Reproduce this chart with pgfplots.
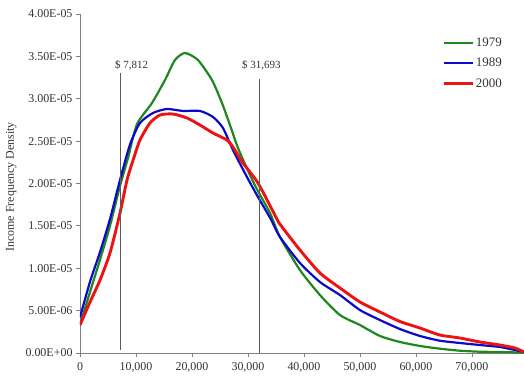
\documentclass[border=0pt]{standalone}
\usepackage{pgfplots}
\pgfplotsset{compat=1.18}
\usepackage{fontspec}
\setmainfont{Liberation Serif}
\definecolor{cgreen}{RGB}{30,135,30}
\definecolor{cblue}{RGB}{10,10,200}
\definecolor{cred}{RGB}{235,20,20}
\definecolor{axgray}{RGB}{128,128,128}
\definecolor{vlgray}{RGB}{90,90,90}
\begin{document}
\begin{tikzpicture}
\begin{axis}[
  scale only axis,
  width=444bp, height=339bp,
  xmin=0, xmax=79300,
  ymin=0, ymax=4e-5,
  axis x line*=bottom, axis y line*=left,
  axis line style={draw=axgray, line width=0.8bp},
  tick style={draw=axgray, line width=0.8bp},
  tick align=outside,
  major tick length=4bp,
  xtick={0,10000,20000,30000,40000,50000,60000,70000},
  xticklabels={0,{10,000},{20,000},{30,000},{40,000},{50,000},{60,000},{70,000}},
  ytick={0,5e-6,1e-5,1.5e-5,2e-5,2.5e-5,3e-5,3.5e-5,4e-5},
  yticklabels={0.00E+00,5.00E-06,1.00E-05,1.50E-05,2.00E-05,2.50E-05,3.00E-05,3.50E-05,4.00E-05},
  scaled y ticks=false, scaled x ticks=false,
  tick label style={font=\fontsize{12}{14}\selectfont, text=black!80},
  xticklabel style={yshift=-2bp},
  ylabel={Income Frequency Density},
  ylabel style={at={(axis description cs:-0.155,0.49)}, anchor=center, font=\fontsize{12}{14}\selectfont, text=black!80},
  legend style={draw=none, fill=none, at={(axis description cs:0.815,0.935)}, anchor=north west,
    font=\fontsize{13}{15}\selectfont, row sep=6bp, inner sep=0pt,
    nodes={inner sep=2bp, text=black!80}},
  legend cell align=left,
  legend image code/.code={\draw[#1] (0bp,0bp) -- (29bp,0bp);},
]
\addplot[cgreen, line width=2.2bp, smooth, tension=0.4] coordinates {
(0,0.330e-5) (1786,0.72e-5) (3571,1.10e-5) (5357,1.50e-5) (7143,1.97e-5)
(8571,2.30e-5) (10179,2.70e-5) (12857,2.950e-5) (15179,3.221e-5)
(16964,3.457e-5) (18750,3.540e-5) (21071,3.457e-5) (23571,3.221e-5) (25357,2.950e-5)
(26786,2.69e-5) (28214,2.42e-5) (30357,2.10e-5) (31786,1.91e-5) (33929,1.652e-5)
(35714,1.369e-5) (39286,0.979e-5) (42857,0.684e-5) (46429,0.448e-5) (50000,0.330e-5)
(53571,0.201e-5) (57143,0.130e-5) (60714,0.083e-5) (64286,0.051e-5) (67857,0.027e-5)
(71429,0.015e-5) (75000,0.012e-5) (79300,0.004e-5)
};
\addlegendentry{1979}
\addplot[cblue, line width=2.2bp, smooth, tension=0.4] coordinates {
(0,0.42e-5) (1786,0.84e-5) (3571,1.19e-5) (5357,1.58e-5) (7143,2.04e-5)
(8929,2.46e-5) (10714,2.714e-5) (13036,2.832e-5) (15536,2.879e-5)
(18393,2.856e-5) (21429,2.856e-5) (23750,2.785e-5) (25536,2.655e-5) (27321,2.395e-5)
(29821,2.077e-5) (31786,1.841e-5) (34018,1.587e-5) (35714,1.369e-5) (39286,1.062e-5)
(42857,0.838e-5) (46429,0.684e-5) (50000,0.507e-5) (53571,0.389e-5) (57143,0.283e-5)
(60714,0.201e-5) (64286,0.145e-5) (67857,0.118e-5) (71429,0.094e-5) (75000,0.071e-5)
(77679,0.035e-5) (79300,0.012e-5)
};
\addlegendentry{1989}
\addplot[cred, line width=2.9bp, smooth, tension=0.4] coordinates {
(0,0.330e-5) (1786,0.60e-5) (3571,0.86e-5) (5357,1.18e-5) (7143,1.65e-5)
(8393,2.04e-5) (9500,2.28e-5) (10714,2.513e-5) (12500,2.714e-5) (14286,2.808e-5)
(16607,2.820e-5) (19107,2.773e-5) (21429,2.690e-5) (23750,2.596e-5) (26250,2.513e-5)
(27321,2.431e-5) (29107,2.242e-5) (31786,2.006e-5) (35179,1.58e-5) (35714,1.52e-5)
(39286,1.215e-5) (42857,0.944e-5) (46429,0.767e-5) (50000,0.602e-5) (53571,0.484e-5)
(57143,0.372e-5) (60714,0.295e-5) (64286,0.212e-5) (67857,0.177e-5) (71429,0.130e-5)
(75000,0.094e-5) (77679,0.059e-5) (79300,0.012e-5)
};
\addlegendentry{2000}
\addplot[vlgray, line width=0.8bp, forget plot] coordinates {(7200,0.035e-5) (7200,3.304e-5)};
\addplot[vlgray, line width=0.8bp, forget plot] coordinates {(32000,0) (32000,3.233e-5)};
\node[anchor=base west, inner sep=0pt, font=\fontsize{11}{13}\selectfont, text=black!80] at (axis cs:6250,3.357e-5) {\$ 7,812};
\node[anchor=base west, inner sep=0pt, font=\fontsize{11}{13}\selectfont, text=black!80] at (axis cs:28929,3.357e-5) {\$ 31,693};
\coordinate (bbsw) at (rel axis cs:-0.18018,-0.067847);
\coordinate (bbne) at (rel axis cs:1,1.041298);
\end{axis}
\pgfresetboundingbox
\path (bbsw) rectangle (bbne);
\end{tikzpicture}
\end{document}
